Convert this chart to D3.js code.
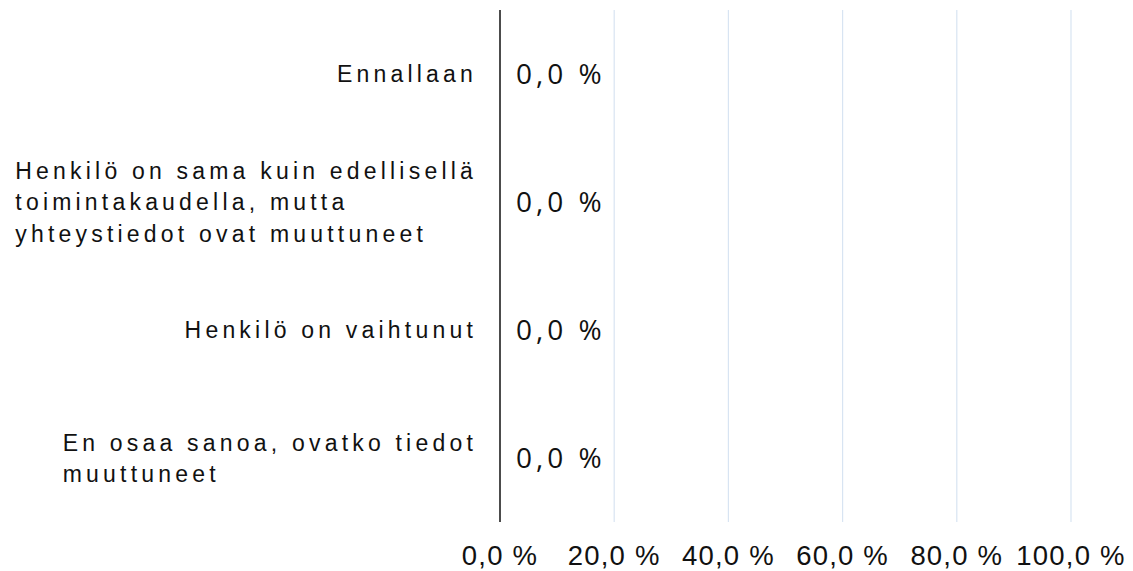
<!DOCTYPE html>
<html>
<head>
<meta charset="utf-8">
<script src="https://cdn.jsdelivr.net/npm/d3@7"></script>
<style>
  body { margin: 0; background: #fff; }
  svg { display: block; }
</style>
</head>
<body>
<svg id="chart"></svg>
<script>
const categories = [
    ["Ennallaan"],
    ["Henkilö on sama kuin edellisellä", "toimintakaudella, mutta", "yhteystiedot ovat muuttuneet"],
    ["Henkilö on vaihtunut"],
    ["En osaa sanoa, ovatko tiedot", "muuttuneet"]
];
const values = [0, 0, 0, 0];
const ticks = [0, 20, 40, 60, 80, 100];

const width = 1133, height = 571;
const margin = { top: 10, right: 62, bottom: 49, left: 500 };

const fmt = v => d3.format(".1f")(v).replace(".", ",") + " %";

const svg = d3.select("#chart").attr("width", width).attr("height", height);

const x = d3.scaleLinear().domain([0, 100]).range([margin.left, width - margin.right]);
const y = d3.scaleBand().domain(d3.range(categories.length))
    .range([margin.top, height - margin.bottom]);

// gridlines
svg.append("g")
    .selectAll("line")
    .data(ticks.slice(1))
    .join("line")
    .attr("x1", d => x(d)).attr("x2", d => x(d))
    .attr("y1", margin.top).attr("y2", height - margin.bottom)
    .attr("stroke", "#d8e4f2")
    .attr("stroke-width", 1.2);

// tick labels
svg.append("g")
    .selectAll("text")
    .data(ticks)
    .join("text")
    .attr("x", d => x(d))
    .attr("y", 565)
    .attr("text-anchor", "middle")
    .style("font-family", "Liberation Sans, Arial, sans-serif")
    .style("font-size", "27.5px")
    .style("letter-spacing", "1.2px")
    .attr("fill", "#111")
    .text(fmt);

// bars
svg.append("g")
    .selectAll("rect")
    .data(values)
    .join("rect")
    .attr("x", x(0))
    .attr("y", (d, i) => y(i) + y.bandwidth() * 0.2)
    .attr("width", d => x(d) - x(0))
    .attr("height", y.bandwidth() * 0.6)
    .attr("fill", "#4472c4");

// value labels
svg.append("g")
    .selectAll("text")
    .data(values)
    .join("text")
    .attr("x", d => x(d) + 16)
    .attr("y", (d, i) => y(i) + y.bandwidth() / 2)
    .attr("dy", "0.36em")
    .style("font-family", "Open Sans, sans-serif")
    .style("font-size", "28px")
    .style("letter-spacing", "4px")
    .attr("fill", "#111")
    .text(fmt);

// category labels: block right-aligned, lines left-aligned
const labelRight = 477, lineH = 31.5;
const lab = svg.append("g");
categories.forEach((lines, i) => {
    const g = lab.append("g");
    const cy = y(i) + y.bandwidth() / 2;
    const texts = g.selectAll("text")
        .data(lines)
        .join("text")
        .attr("y", (d, j) => cy + (j - (lines.length - 1) / 2) * lineH)
        .attr("dy", "0.36em")
        .style("font-family", "Liberation Sans, Arial, sans-serif")
        .style("font-size", "23px")
        .style("letter-spacing", "4.2px")
        .attr("fill", "#111")
        .text(d => d);
    const w = d3.max(texts.nodes(), n => n.getComputedTextLength());
    texts.attr("x", labelRight - w);
});

// axis line
svg.append("line")
    .attr("x1", x(0)).attr("x2", x(0))
    .attr("y1", margin.top).attr("y2", height - margin.bottom)
    .attr("stroke", "#111")
    .attr("stroke-width", 1.5);
</script>
</body>
</html>
